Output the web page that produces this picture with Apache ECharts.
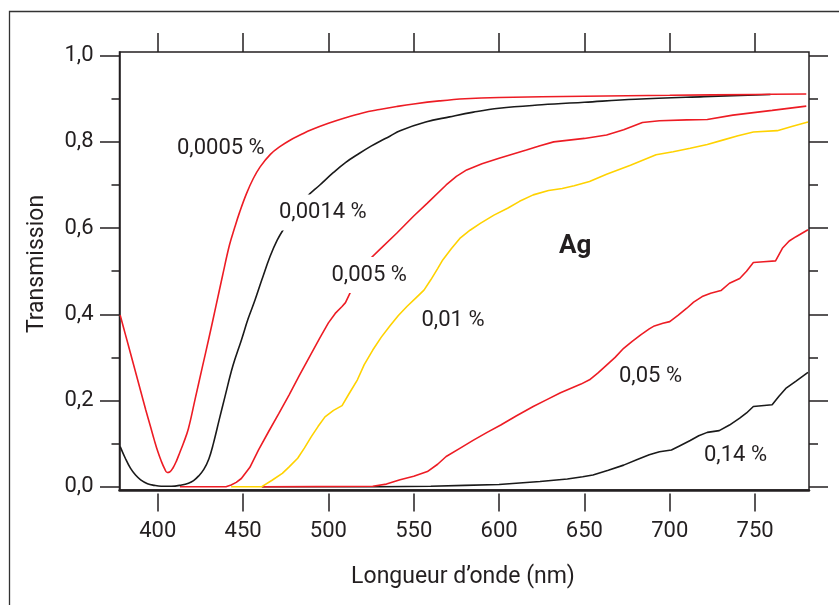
<!DOCTYPE html>
<html>
<head>
<meta charset="utf-8">
<script src="https://cdn.jsdelivr.net/npm/echarts@6/dist/echarts.min.js"></script>
<style>html,body{margin:0;padding:0;background:#fff;}#c{width:839px;height:605px;}</style>
</head>
<body>
<div id="c"></div>
<script>
// ---- data ----
const xTicks = [400, 450, 500, 550, 600, 650, 700, 750];
const yMajor = [0, 0.2, 0.4, 0.6, 0.8, 1.0];
const yMinor = [0.1, 0.3, 0.5, 0.7, 0.9];

const wl_0005 = [378,381,384,387,390,393,396,398,400,402,404,405.5,407,409,411,413,415,418,422,426,430,434,438,442,445,448,452,456,460,466,472,478,484,490,500,510,520,530,540,550,565,580,600,650,700,750,780];
const tr_0005 = [0.398,0.354,0.31,0.266,0.222,0.178,0.136,0.108,0.082,0.06,0.042,0.033,0.034,0.044,0.06,0.08,0.1,0.135,0.205,0.275,0.345,0.417,0.49,0.56,0.6,0.637,0.68,0.715,0.742,0.771,0.79,0.805,0.817,0.828,0.843,0.856,0.867,0.875,0.882,0.888,0.895,0.9,0.903,0.906,0.908,0.91,0.911];

const wl_0014 = [378,381,384,387,390,394,398,402,408,414,418,421,424,427,430,432.6,436,439.4,444,449,453,457,461,465.8,470,474.6,480,487,495,503,510,518,525,530,536,542,557,571,585,600,625,650,680,720,759];
const tr_0014 = [0.093,0.066,0.043,0.027,0.016,0.007,0.003,0.001,0.001,0.004,0.008,0.014,0.025,0.04,0.065,0.1,0.155,0.209,0.28,0.34,0.39,0.433,0.48,0.534,0.572,0.603,0.635,0.671,0.7,0.729,0.752,0.773,0.79,0.801,0.813,0.826,0.846,0.858,0.869,0.878,0.886,0.892,0.899,0.905,0.91];

const wl_005 = [413,440,443,446,449,454,459,465,471,477,483,489,495,500,504,508,510,513,518,523,530,540,550,558,569,575,581,590,600,616,624,632,650,663,673,684,694,710,722,737,760,780];
const tr_005 = [0,0,0.004,0.01,0.019,0.045,0.085,0.128,0.17,0.213,0.258,0.302,0.345,0.38,0.402,0.418,0.427,0.452,0.49,0.523,0.55,0.588,0.628,0.658,0.7,0.72,0.735,0.749,0.762,0.781,0.791,0.8,0.808,0.816,0.828,0.845,0.849,0.851,0.852,0.862,0.873,0.883];

const wl_01 = [443,461,467,473,477,482,486,490,494,498,503,508,512,517,521,526,531,536,541,546,551,556,560,564,567,572,577,583,589,597,605,612,620,629,637,644,653,663,677,692,702,712,722,731,740,749,763,772,781];
const tr_01 = [0,0,0.015,0.031,0.046,0.066,0.09,0.116,0.14,0.162,0.177,0.188,0.215,0.248,0.283,0.317,0.347,0.373,0.397,0.418,0.437,0.456,0.48,0.506,0.526,0.552,0.576,0.595,0.611,0.63,0.646,0.662,0.677,0.687,0.692,0.698,0.708,0.725,0.746,0.77,0.777,0.785,0.794,0.804,0.814,0.823,0.826,0.836,0.846];

const wl_05 = [461,526,534,542,550,558,564,569,577,585,593,601,610,620,628,636,648,653,658,663,668,673,678,683,688,691,696,700,705,710,714,719,724,730,735,741,745,749,755,762,766,770,774,781];
const tr_05 = [0,0.001,0.006,0.016,0.024,0.035,0.052,0.07,0.089,0.108,0.126,0.143,0.164,0.186,0.202,0.218,0.238,0.248,0.264,0.282,0.3,0.321,0.337,0.352,0.366,0.373,0.379,0.383,0.398,0.414,0.428,0.441,0.449,0.455,0.472,0.483,0.5,0.52,0.522,0.524,0.553,0.57,0.58,0.596];

const wl_14 = [461,530,560,580,600,624,640,649,655,664,673,681,688,694,701,706,712,717,722,729,735,741,745,749,760,764,768,774,781];
const tr_14 = [0,0,0.001,0.003,0.005,0.012,0.018,0.023,0.027,0.038,0.05,0.063,0.074,0.081,0.085,0.095,0.107,0.118,0.126,0.13,0.143,0.159,0.171,0.186,0.19,0.21,0.228,0.245,0.265];

// ---- chart ----
const RED = '#ed1c24', BLACK = '#1a1a1a', YELLOW = '#ffd200', INK = '#231f20';
const zip = (a, b) => a.map((v, i) => [v, b[i]]);
const mkLine = (name, wl, tr, color, smooth) => ({
  name, type: 'line', data: zip(wl, tr), showSymbol: false, symbol: 'none',
  smooth: smooth,
  lineStyle: { color, width: 1.6 }, itemStyle: { color }, silent: true
});

const chart = echarts.init(document.getElementById('c'), null, { renderer: 'canvas' });
const tickStyle = { color: INK, width: 1.5 };
const font = 'Roboto';
const X = { min: 377.6, max: 781.6 };
const Y = { min: -0.0077, max: 1.0085 };
chart.setOption({
  animation: false,
  backgroundColor: '#fff',
  grid: { left: 119.5, right: 30, top: 52, bottom: 115, show: true, borderColor: INK, borderWidth: 1.5, backgroundColor: 'transparent' },
  xAxis: [
    { type: 'value', position: 'bottom', ...X, splitLine: { show: false },
      axisLine: { show: true, onZero: false, lineStyle: { color: INK, width: 2.5 } }, axisTick: { show: false },
      axisLabel: { customValues: xTicks, margin: 30, fontSize: 22, fontFamily: font, color: INK } },
    { type: 'value', position: 'bottom', offset: 3.5, ...X, splitLine: { show: false },
      axisLine: { show: false, onZero: false }, axisLabel: { show: false },
      axisTick: { show: true, customValues: xTicks, length: 18, inside: false, lineStyle: tickStyle } },
    { type: 'value', position: 'top', ...X, splitLine: { show: false },
      axisLine: { show: false, onZero: false }, axisLabel: { show: false },
      axisTick: { show: true, customValues: xTicks, length: 19, inside: false, lineStyle: tickStyle } }
  ],
  yAxis: [
    { type: 'value', position: 'left', ...Y, splitLine: { show: false },
      axisLine: { show: true, onZero: false, lineStyle: { color: INK, width: 1.5 } },
      axisTick: { show: true, customValues: yMajor, length: 19.5, lineStyle: tickStyle },
      axisLabel: { customValues: yMajor, margin: 26, fontSize: 22, fontFamily: font, color: INK,
        formatter: v => v.toFixed(1).replace('.', ',') } },
    { type: 'value', position: 'left', ...Y, splitLine: { show: false },
      axisLine: { show: false, onZero: false }, axisLabel: { show: false },
      axisTick: { show: true, customValues: yMinor, length: 8, lineStyle: tickStyle } },
    { type: 'value', position: 'right', ...Y, splitLine: { show: false },
      axisLine: { show: false, onZero: false }, axisLabel: { show: false },
      axisTick: { show: true, customValues: yMajor, length: 19, lineStyle: tickStyle } },
    { type: 'value', position: 'right', ...Y, splitLine: { show: false },
      axisLine: { show: false, onZero: false }, axisLabel: { show: false },
      axisTick: { show: true, customValues: yMinor, length: 9, lineStyle: tickStyle } }
  ],
  series: [
    mkLine('0,14 %', wl_14, tr_14, BLACK, false),
    mkLine('0,05 %', wl_05, tr_05, RED, false),
    mkLine('0,01 %', wl_01, tr_01, YELLOW, false),
    mkLine('0,005 %', wl_005, tr_005, RED, false),
    mkLine('0,0014 %', wl_0014, tr_0014, BLACK, 0.4),
    mkLine('0,0005 %', wl_0005, tr_0005, RED, 0.4)
  ],
  graphic: [
    { type: 'polyline', z: 100, shape: { points: [[9.5, 605], [9.5, 11.5], [839, 11.5]] }, style: { stroke: '#333', lineWidth: 1.3, fill: null } },
    { type: 'text', z: 100, x: 463, y: 577, style: { text: 'Longueur d’onde (nm)', font: '23px Roboto', fill: INK, align: 'center', verticalAlign: 'middle' } },
    { type: 'text', z: 100, x: 37, y: 264, rotation: Math.PI / 2, style: { text: 'Transmission', font: '23px Roboto', fill: INK, align: 'center', verticalAlign: 'middle' } },
    { type: 'text', z: 100, x: 177, y: 148, style: { text: '0,0005 %', font: '22px Roboto', fill: INK, align: 'left', verticalAlign: 'middle' } },
    { type: 'text', z: 100, x: 276, y: 212.5, style: { text: '0,0014 %', font: '22px Roboto', fill: INK, align: 'left', verticalAlign: 'middle', backgroundColor: '#fff', padding: [7, 3, 7, 3] } },
    { type: 'text', z: 100, x: 328.5, y: 275, style: { text: '0,005 %', font: '22px Roboto', fill: INK, align: 'left', verticalAlign: 'middle', backgroundColor: '#fff', padding: [7, 3, 7, 3] } },
    { type: 'text', z: 100, x: 421.5, y: 320, style: { text: '0,01 %', font: '22px Roboto', fill: INK, align: 'left', verticalAlign: 'middle' } },
    { type: 'text', z: 100, x: 559, y: 246, style: { text: 'Ag', font: 'bold 26px Roboto', fill: INK, align: 'left', verticalAlign: 'middle' } },
    { type: 'text', z: 100, x: 619, y: 376, style: { text: '0,05 %', font: '22px Roboto', fill: INK, align: 'left', verticalAlign: 'middle' } },
    { type: 'text', z: 100, x: 704, y: 455, style: { text: '0,14 %', font: '22px Roboto', fill: INK, align: 'left', verticalAlign: 'middle' } }
  ]
});
</script>
</body>
</html>
